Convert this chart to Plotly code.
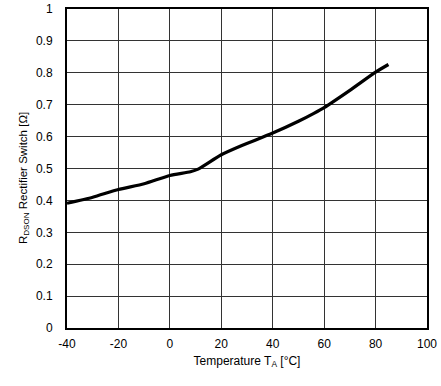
import plotly.graph_objects as go

temp_c = [-40, -30, -20, -10, 0, 8, 11, 20, 28, 40, 50, 56, 60, 70, 80, 85]
rdson_ohm = [0.391, 0.410, 0.434, 0.452, 0.478, 0.490, 0.498, 0.543, 0.572, 0.611, 0.648, 0.673, 0.691, 0.745, 0.802, 0.826]

x_ticks = [-40, -20, 0, 20, 40, 60, 80, 100]
y_ticks = [0, 0.1, 0.2, 0.3, 0.4, 0.5, 0.6, 0.7, 0.8, 0.9, 1]

fig = go.Figure()
fig.add_trace(go.Scatter(x=temp_c, y=rdson_ohm, mode="lines",
                         line=dict(color="black", width=3.2, shape="spline", smoothing=0.6),
                         showlegend=False, hoverinfo="skip"))

font = dict(family="Liberation Sans, Arial, sans-serif", size=12, color="black")
fig.update_layout(
    width=441, height=386,
    margin=dict(l=67, r=14, t=9, b=58, autoexpand=False),
    paper_bgcolor="white", plot_bgcolor="white",
    font=font,
    xaxis=dict(range=[-40, 100], tickvals=x_ticks, ticktext=[str(v) for v in x_ticks],
               showgrid=True, gridcolor="#333", gridwidth=1,
               showline=True, linecolor="black", linewidth=2, mirror=True,
               zeroline=False, ticks="", ticklabelstandoff=4, automargin=False,
               title=dict(text="Temperature T<sub>A</sub> [°C]", standoff=6, font=font)),
    yaxis=dict(range=[0, 1], tickvals=y_ticks, ticktext=[f"{v:g}" for v in y_ticks],
               showgrid=True, gridcolor="#333", gridwidth=1,
               showline=True, linecolor="black", linewidth=2, mirror=True,
               zeroline=False, ticks="", ticklabelstandoff=10, automargin=False),
    annotations=[dict(text="R<sub>DSON</sub> Rectifier Switch [Ω]", textangle=-90,
                      xref="paper", yref="paper", x=(24 - 67) / 360, y=(328 - 178) / 319,
                      xanchor="center", yanchor="middle", showarrow=False,
                      font=dict(family="Liberation Sans, Arial, sans-serif", size=11.5, color="black"))],
)
fig.write_html("out.html", config={"displayModeBar": False},
               post_script="document.body.style.margin='0';document.body.style.overflow='hidden';")
